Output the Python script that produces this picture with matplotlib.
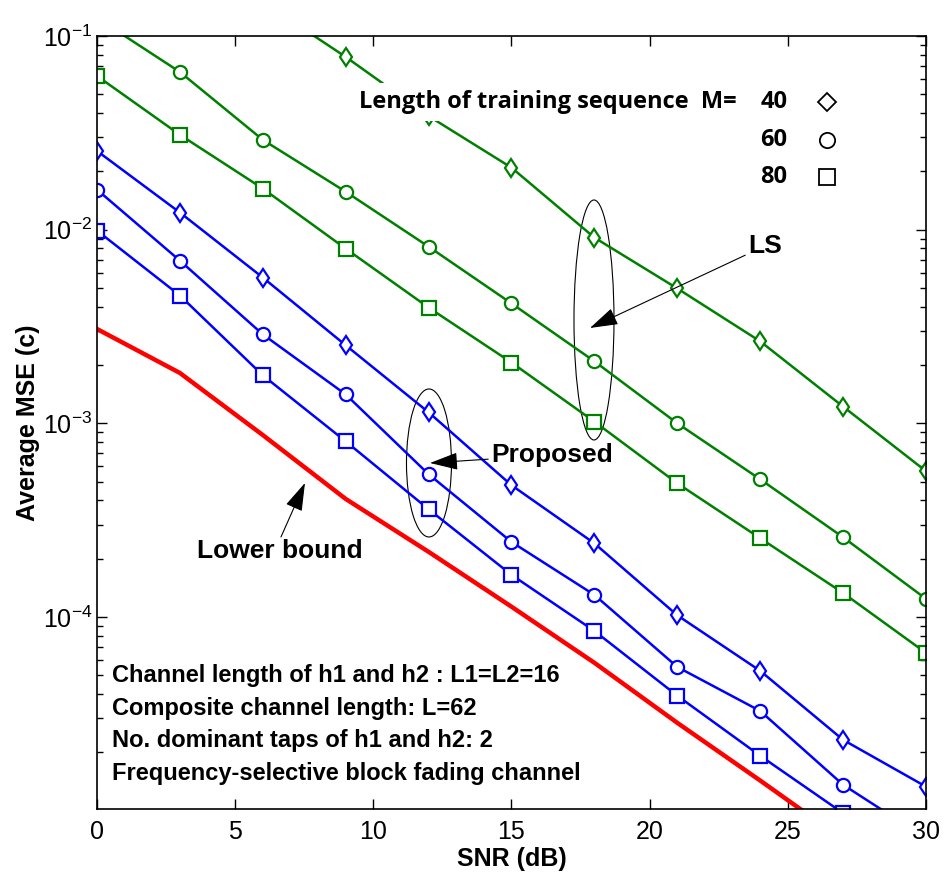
import matplotlib
matplotlib.use('Agg')
import matplotlib.pyplot as plt
from matplotlib.patches import Ellipse

plt.rcParams['font.family'] = ['Liberation Sans', 'DejaVu Sans']

snr = [0, 3, 6, 9, 12, 15, 18, 21, 24, 27, 30]

# LS, M = 40 / 60 / 80
ls_40 = [0.60, 0.30, 0.15, 0.078, 0.0386, 0.0209, 0.0091, 0.00497, 0.00265, 0.00122, 0.000566]
ls_60 = [0.124, 0.0652, 0.0291, 0.0157, 0.00817, 0.00416, 0.00209, 0.00100, 0.000514, 0.000258, 0.000124]
ls_80 = [0.0622, 0.0309, 0.0163, 0.00798, 0.00396, 0.00206, 0.00102, 0.00049, 0.000255, 0.000133, 6.52e-5]

# Proposed, M = 40 / 60 / 80
pr_40 = [0.0255, 0.01226, 0.00566, 0.00253, 0.00114, 0.000479, 0.00024, 0.000102, 5.27e-5, 2.32e-5, 1.33e-5]
pr_60 = [0.0161, 0.00692, 0.00288, 0.00141, 0.000546, 0.000244, 0.00013, 5.52e-5, 3.27e-5, 1.36e-5, 7.2e-6]
pr_80 = [0.00989, 0.00457, 0.00177, 0.000807, 0.00036, 0.000165, 8.47e-5, 3.92e-5, 1.92e-5, 9.7e-6, 4.9e-6]

lower_bound = [0.00307, 0.00182, 0.00087, 0.000407, 0.000217, 0.000113, 5.8e-5, 2.84e-5, 1.43e-5, 7.1e-6, 3.5e-6]

m_labels = ['40', '60', '80']
info_lines = ['Channel length of h1 and h2 : L1=L2=16',
              'Composite channel length: L=62',
              'No. dominant taps of h1 and h2: 2',
              'Frequency-selective block fading channel']

fig = plt.figure(figsize=(9.45, 8.82), dpi=100)
ax = fig.add_axes([0.1026, 0.0828, 0.8773, 0.8764])

green = '#008000'
blue = '#0000FF'
mk = dict(markerfacecolor='white', markersize=9.5, markeredgewidth=1.6, lw=1.8)

ax.plot(snr, ls_40, color=green, marker='d', **mk)
ax.plot(snr, ls_60, color=green, marker='o', **mk)
ax.plot(snr, ls_80, color=green, marker='s', **mk)
ax.plot(snr, pr_40, color=blue, marker='d', **mk)
ax.plot(snr, pr_60, color=blue, marker='o', **mk)
ax.plot(snr, pr_80, color=blue, marker='s', **mk)
ax.plot(snr, lower_bound, color='red', lw=3.2)

ax.set_yscale('log')
ax.set_xlim(0, 30)
ax.set_ylim(1.02e-5, 1e-1)
ax.set_xticks([0, 5, 10, 15, 20, 25, 30])
ax.set_yticks([1e-4, 1e-3, 1e-2, 1e-1])
ax.set_yticklabels([r'$\mathregular{10^{-4}}$', r'$\mathregular{10^{-3}}$',
                    r'$\mathregular{10^{-2}}$', r'$\mathregular{10^{-1}}$'])
ax.tick_params(which='both', direction='in', top=True, right=True, labelsize=18, width=1)
ax.tick_params(which='major', length=7)
ax.tick_params(which='minor', length=4)
ax.tick_params(axis='x', pad=8)
for s in ax.spines.values():
    s.set_linewidth(1.2)

ax.set_xlabel('SNR (dB)', fontsize=18, fontweight='bold', labelpad=2)
ax.set_ylabel('Average MSE (c)', fontsize=18, fontweight='bold', labelpad=2)

# legend text (top right), white box hides the line behind it
lf = dict(fontsize=17, fontweight='bold', family=['Open Sans', 'DejaVu Sans'], va='center')
leg_y = [0.0456, 0.0290, 0.01866]
ax.text(9.5, leg_y[0], 'Length of training sequence  M=', ha='left', zorder=5,
        bbox=dict(facecolor='white', edgecolor='none', pad=5), **lf)
for m, lbl, yv in zip(['D', 'o', 's'], m_labels, leg_y):
    ax.text(24.0, yv, lbl, ha='left', **lf)
    ax.plot([26.42], [yv], marker=m, color='black', markerfacecolor='white',
            markersize=11 if m != 'D' else 9, markeredgewidth=1.3, clip_on=False)

# ellipses (axes coords)
ax.add_patch(Ellipse(((594 - 97) / 829, 1 - (320 - 36) / 773), 40 / 829, 240 / 773,
                     transform=ax.transAxes, fill=False, lw=0.8, color='black'))
ax.add_patch(Ellipse(((429 - 97) / 829, 1 - (463 - 36) / 773), 45 / 829, 148 / 773,
                     transform=ax.transAxes, fill=False, lw=0.8, color='black'))

af = dict(fontsize=19, fontweight='bold')
arr = dict(arrowstyle='-|>,head_length=0.8,head_width=0.25', color='black', lw=0.8,
           mutation_scale=22, shrinkA=0, shrinkB=0)
ax.annotate('LS', xy=((590 - 97) / 829, 1 - (328 - 36) / 773), xycoords='axes fraction',
            xytext=((748 - 97) / 829, 1 - (246 - 36) / 773), textcoords='axes fraction',
            ha='left', va='center', **af, arrowprops=arr)
ax.annotate('Proposed', xy=((430 - 97) / 829, 1 - (463 - 36) / 773), xycoords='axes fraction',
            xytext=((491 - 97) / 829, 1 - (455 - 36) / 773), textcoords='axes fraction',
            ha='left', va='center', **af, arrowprops=arr)
ax.annotate('', xy=((305 - 97) / 829, 1 - (483 - 36) / 773), xycoords='axes fraction',
            xytext=((281 - 97) / 829, 1 - (537 - 36) / 773), textcoords='axes fraction',
            arrowprops=arr)
ax.text((197 - 97) / 829, 1 - (551 - 36) / 773, 'Lower bound', transform=ax.transAxes,
        ha='left', va='center', **af)

for i, line in enumerate(info_lines):
    ax.text((112 - 97) / 829, 1 - (676 + 32.5 * i - 36) / 773, line, transform=ax.transAxes,
            ha='left', va='center', fontsize=17, fontweight='bold')

fig.savefig('out.png', dpi=100)
